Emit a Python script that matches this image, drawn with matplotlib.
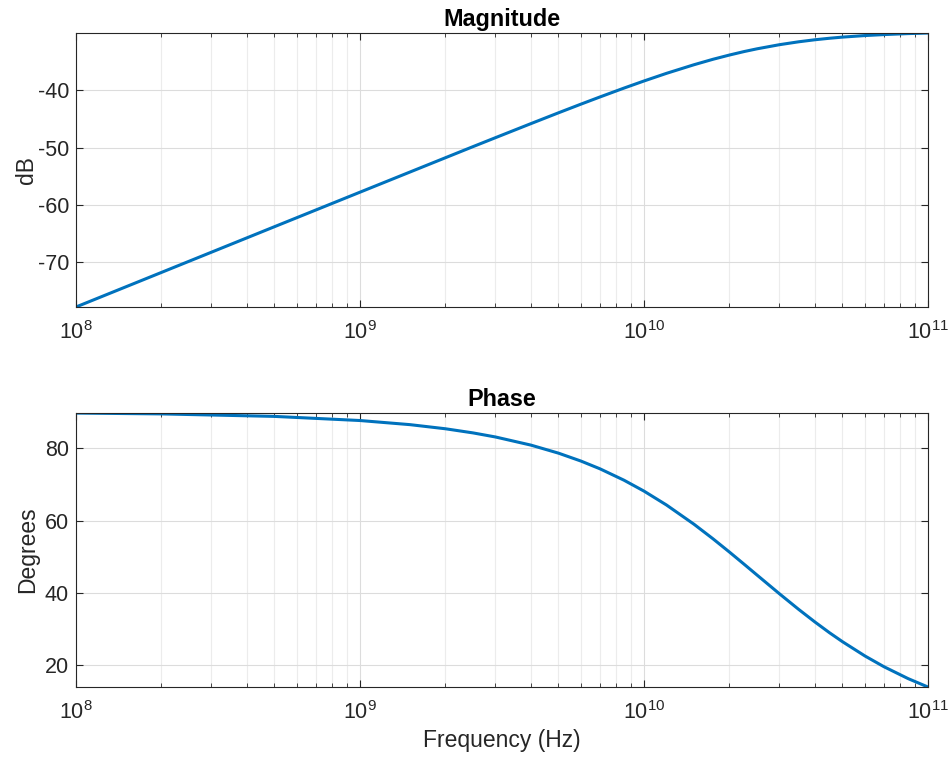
import matplotlib.pyplot as plt
from matplotlib.ticker import LogLocator, NullFormatter

# values
freq_hz = [1e8, 2e8, 5e8, 1e9, 1.5e9, 2e9, 2.5e9, 3e9, 4e9, 5e9, 6e9, 7e9, 8.5e9, 1e10,
           1.2e10, 1.5e10, 1.75e10, 2e10, 2.25e10, 2.5e10, 3e10, 3.5e10, 4e10, 4.5e10,
           5e10, 6e10, 7e10, 8.5e10, 1e11]
mag_db = [-77.76, -71.74, -63.78, -57.77, -54.26, -51.77, -49.84, -48.28, -45.83, -43.95,
          -42.44, -41.19, -39.65, -38.41, -37.08, -35.58, -34.63, -33.89, -33.29, -32.81,
          -32.09, -31.59, -31.23, -30.97, -30.77, -30.50, -30.33, -30.16, -30.06]
phase_deg = [89.77, 89.54, 88.85, 87.71, 86.57, 85.43, 84.29, 83.16, 80.91, 78.69,
             76.50, 74.36, 71.22, 68.20, 64.36, 59.04, 55.01, 51.34, 48.01, 45.0,
             39.81, 35.54, 32.01, 29.05, 26.57, 22.62, 19.65, 16.39, 14.04]

mag_ticks = [-70, -60, -50, -40]
phase_ticks = [20, 40, 60, 80]

plt.rcParams['font.family'] = ['Liberation Sans', 'DejaVu Sans']
plt.rcParams['mathtext.fontset'] = 'custom'
plt.rcParams['mathtext.rm'] = 'Liberation Sans'
plt.rcParams['axes.unicode_minus'] = False

blue = '#0072BD'
dark = '#262626'
fs_tick = 15.5
fs_lab = 16.5
fs_title = 16.8

fig = plt.figure(figsize=(9.51, 7.61), dpi=100)
ax1 = fig.add_axes([0.0799, 0.5966, 0.8959, 0.360])
ax2 = fig.add_axes([0.0799, 0.0972, 0.8959, 0.360])


def style(ax):
    ax.set_xscale('log')
    ax.set_xlim(1e8, 1e11)
    ax.xaxis.set_major_locator(LogLocator(base=10, numticks=10))
    ax.xaxis.set_minor_locator(LogLocator(base=10, subs=range(2, 10), numticks=100))
    ax.xaxis.set_minor_formatter(NullFormatter())
    ax.grid(True, which='major', color='#dcdcdc', linewidth=0.8)
    ax.grid(True, which='minor', axis='x', color='#ececec', linewidth=0.8)
    ax.set_axisbelow(True)
    ax.tick_params(which='both', direction='in', top=True, right=True,
                   colors=dark, labelsize=fs_tick, labelcolor=dark)
    ax.tick_params(which='major', length=5, width=0.8)
    ax.tick_params(which='minor', length=3, width=0.6)
    ax.tick_params(axis='x', pad=10)
    ax.tick_params(axis='y', pad=5)
    for s in ax.spines.values():
        s.set_color(dark)
        s.set_linewidth(0.8)


ax1.plot(freq_hz, mag_db, color=blue, linewidth=2.2)
style(ax1)
ax1.set_ylim(min(mag_db), max(mag_db))
ax1.set_yticks(mag_ticks)
ax1.set_title('Magnitude', fontsize=fs_title, fontweight='bold', color='black', pad=5)
ax1.set_ylabel('dB', fontsize=fs_lab, color=dark, labelpad=0)

ax2.plot(freq_hz, phase_deg, color=blue, linewidth=2.2)
style(ax2)
ax2.set_ylim(min(phase_deg), max(phase_deg))
ax2.set_yticks(phase_ticks)
ax2.set_title('Phase', fontsize=fs_title, fontweight='bold', color='black', pad=5)
ax2.set_ylabel('Degrees', fontsize=fs_lab, color=dark, labelpad=4)
ax2.set_xlabel('Frequency (Hz)', fontsize=fs_lab, color=dark, labelpad=4)

fig.savefig('out.png', dpi=100)
